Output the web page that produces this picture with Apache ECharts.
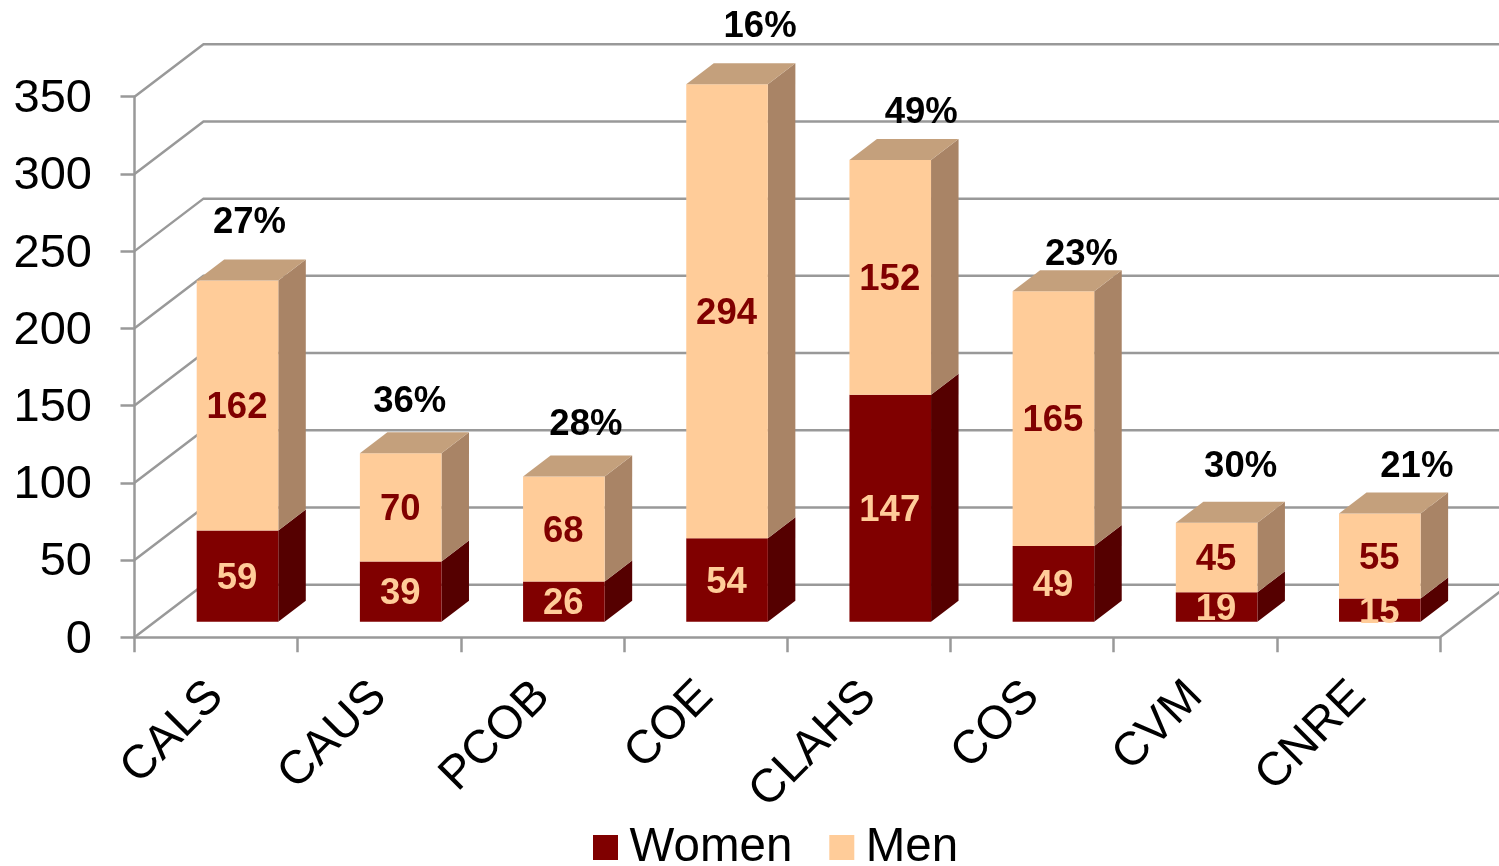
<!DOCTYPE html>
<html>
<head>
<meta charset="utf-8">
<style>html,body{margin:0;padding:0;background:#fff}#c{width:1499px;height:866px}</style>
<script src="https://cdn.jsdelivr.net/npm/echarts@6/dist/echarts.min.js"></script>
</head>
<body>
<div id="c"></div>
<script>
const categories = ['CALS','CAUS','PCOB','COE','CLAHS','COS','CVM','CNRE'];
const women = [59,39,26,54,147,49,19,15];
const men = [162,70,68,294,152,165,45,55];
const percentWomen = ['27%','36%','28%','16%','49%','23%','30%','21%'];
const yTicks = [0,50,100,150,200,250,300,350];

// Styling only: pixel nudges of the percent labels relative to the bar's top, and 3D depth.
const pctNudgeX = [12,9,22,33,31,28,24,37];
const pctNudgeY = [-57,-51,-52,-57,-47,-36,-56,-47];
const WALL = {dx:69, dy:-52.5};
const BAR_SHIFT = {dx:21.4, dy:-15.5};
const BAR_DEPTH = {dx:27.5, dy:-21};
const GRID_COLOR = '#999999';
const FONT = '"Liberation Sans", Arial, sans-serif';

function boxRenderer(front, side, top, withTop, textColor) {
  return function (params, api) {
    const i = api.value(0), lo = api.value(1), hi = api.value(2), label = api.value(3);
    const c0 = api.coord([i, lo]), c1 = api.coord([i, hi]);
    const bw = api.size([1, 0])[0] / 2;
    const xl = c0[0] - bw / 2 + BAR_SHIFT.dx, xr = xl + bw;
    const yb = c0[1] + BAR_SHIFT.dy, yt = c1[1] + BAR_SHIFT.dy;
    const d = BAR_DEPTH;
    const children = [
      {type:'polygon', shape:{points:[[xr,yb],[xr+d.dx,yb+d.dy],[xr+d.dx,yt+d.dy],[xr,yt]]}, style:{fill:side}},
      {type:'rect', shape:{x:xl,y:yt,width:bw,height:yb-yt}, style:{fill:front}}
    ];
    if (withTop) children.push({type:'polygon', shape:{points:[[xl,yt],[xr,yt],[xr+d.dx,yt+d.dy],[xl+d.dx,yt+d.dy]]}, style:{fill:top}});
    children.push({type:'text', z2:100, style:{x:(xl+xr)/2-0.5, y:(yb+yt)/2+2.5, text:String(label), fill:textColor,
      font:'bold 36.5px '+FONT, textAlign:'center', textVerticalAlign:'middle'}});
    return {type:'group', children};
  };
}

const womenData = categories.map((c,i)=>[i,0,women[i],women[i]]);
const menData = categories.map((c,i)=>[i,women[i],women[i]+men[i],men[i]]);
const pctData = categories.map((c,i)=>[i,women[i]+men[i],percentWomen[i]]);

const chart = echarts.init(document.getElementById('c'), null, {renderer:'canvas'});
chart.setOption({
  animation:false,
  backgroundColor:'#fff',
  grid:{left:134.5, right:59, top:96.7, height:540.5, containLabel:false},
  legend:{
    data:['Women','Men'], left:588, top:818.5, itemWidth:25, itemHeight:25, itemGap:37,
    icon:'rect', textStyle:{fontFamily:FONT, fontSize:47.5, color:'#000', padding:[0,0,0,6.5]}
  },
  xAxis:{
    type:'category', data:categories, boundaryGap:true,
    axisLine:{lineStyle:{color:GRID_COLOR,width:2.5}},
    axisTick:{show:true,length:15,lineStyle:{color:GRID_COLOR,width:2.5}},
    axisLabel:{rotate:45, interval:0, fontFamily:FONT, fontSize:47, color:'#000', margin:52}
  },
  yAxis:{
    type:'value', min:0, max:350, interval:50,
    splitLine:{show:false},
    axisLine:{show:true,lineStyle:{color:GRID_COLOR,width:2.5}},
    axisTick:{show:true,length:14,lineStyle:{color:GRID_COLOR,width:2.5}},
    axisLabel:{margin:42.5, formatter:'{a|{value}}',
      rich:{a:{fontFamily:FONT, fontSize:47, color:'#000', padding:[5,0,0,0]}}}
  },
  series:[
    {type:'custom', name:'walls', silent:true, z:1, coordinateSystem:'cartesian2d',
     data:yTicks.map(v=>[0,v]),
     renderItem(params, api){
       const v = api.value(1);
       const c = api.coord([0,v]);
       const band = api.size([1,0])[0];
       const x0 = c[0]-band/2;
       const x1 = x0+band*categories.length;
       const children = [{type:'polyline', shape:{points:[[x0,c[1]],[x0+WALL.dx,c[1]+WALL.dy],[x1+WALL.dx,c[1]+WALL.dy]]},
         style:{stroke:GRID_COLOR,lineWidth:2.5,fill:null}}];
       if (v===0) children.push({type:'line', shape:{x1:x1,y1:c[1],x2:x1+WALL.dx,y2:c[1]+WALL.dy}, style:{stroke:GRID_COLOR,lineWidth:2.5}});
       return {type:'group', children};
     }},
    {type:'custom', name:'Women', z:3, data:womenData, itemStyle:{color:'#800000'},
     renderItem:boxRenderer('#800000','#550000','#550000',false,'#FFCC99')},
    {type:'custom', name:'Men', z:4, data:menData, itemStyle:{color:'#FFCC99'},
     renderItem:boxRenderer('#FFCC99','#A98466','#C4A07C',true,'#800000')},
    {type:'custom', name:'pct', z:5, silent:true, data:pctData,
     renderItem(params, api){
       const i = api.value(0);
       const c = api.coord([i, api.value(1)]);
       const bx = c[0]+BAR_SHIFT.dx+pctNudgeX[i], by = c[1]+BAR_SHIFT.dy+pctNudgeY[i];
       return {type:'text', style:{x:bx, y:by, text:percentWomen[i], fill:'#000',
         font:'bold 36.5px '+FONT, textAlign:'center', textVerticalAlign:'middle'}};
     }}
  ]
});
</script>
</body>
</html>
